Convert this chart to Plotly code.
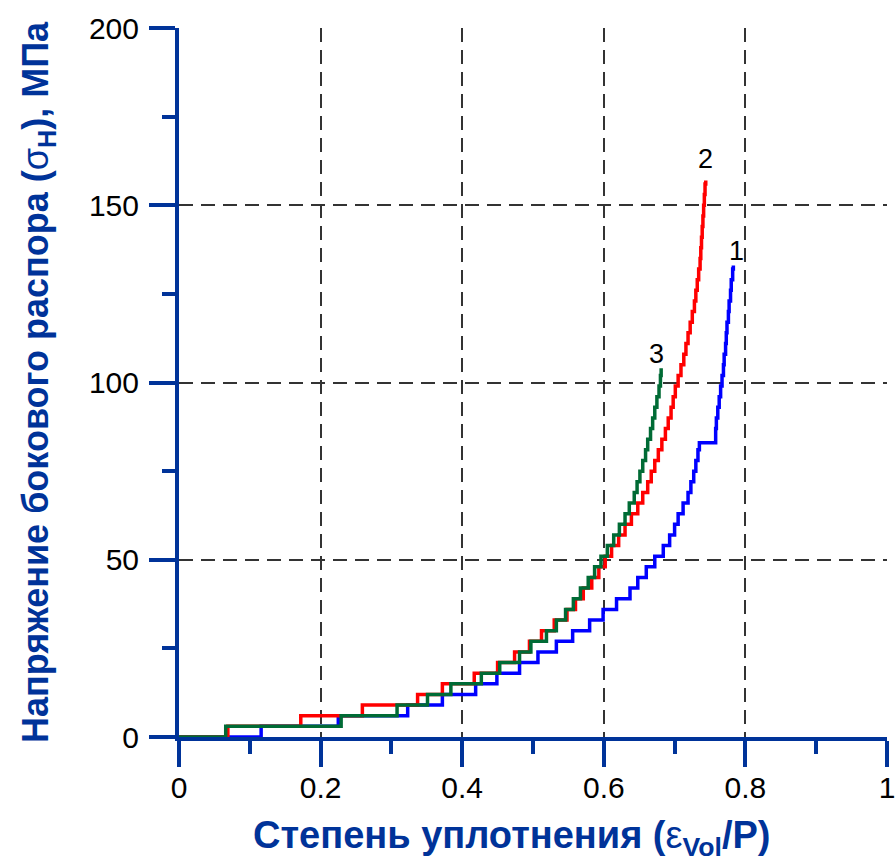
import plotly.graph_objects as go

# ---- data ----
eps_1 = [0, 0.116, 0.225, 0.323, 0.372, 0.419, 0.449, 0.481, 0.507, 0.533, 0.556, 0.580,
         0.599, 0.618, 0.637, 0.648, 0.660, 0.672, 0.684, 0.693, 0.700, 0.705, 0.712, 0.719,
         0.723, 0.727, 0.730, 0.733, 0.735, 0.758, 0.759, 0.761, 0.763, 0.765, 0.767, 0.769,
         0.770, 0.772, 0.773, 0.774, 0.776, 0.777, 0.779, 0.780, 0.782, 0.783]
sigma_1 = [0, 3, 6, 9, 12, 15, 18, 21, 24, 27, 30, 33, 36, 39, 42, 45, 48, 51, 54, 57, 60,
           63, 66, 69, 72, 75, 78, 81, 83, 87, 90, 93, 96, 99, 102, 105, 108, 111, 114, 117,
           120, 123, 126, 129, 132, 133]

eps_2 = [0, 0.069, 0.172, 0.259, 0.337, 0.372, 0.417, 0.450, 0.474, 0.495, 0.512, 0.530,
         0.548, 0.560, 0.571, 0.583, 0.593, 0.602, 0.611, 0.621, 0.630, 0.639, 0.648, 0.655,
         0.662, 0.667, 0.672, 0.677, 0.682, 0.687, 0.691, 0.695, 0.698, 0.701, 0.705, 0.709,
         0.713, 0.716, 0.719, 0.722, 0.725, 0.728, 0.730, 0.732, 0.734, 0.736, 0.737, 0.738,
         0.739, 0.740, 0.741, 0.742, 0.743, 0.744]
sigma_2 = [0, 3, 6, 9, 12, 15, 18, 21, 24, 27, 30, 33, 36, 39, 42, 45, 48, 51, 54, 57, 60,
           63, 66, 69, 72, 75, 78, 81, 84, 87, 90, 93, 96, 99, 102, 105, 108, 111, 114, 117,
           120, 123, 126, 129, 132, 135, 138, 141, 144, 147, 150, 153, 156, 157]

eps_3 = [0, 0.066, 0.229, 0.308, 0.351, 0.384, 0.427, 0.453, 0.481, 0.497, 0.519, 0.533,
         0.546, 0.557, 0.567, 0.578, 0.587, 0.596, 0.605, 0.614, 0.622, 0.630, 0.636, 0.643,
         0.647, 0.651, 0.655, 0.659, 0.662, 0.666, 0.669, 0.672, 0.675, 0.678, 0.680, 0.681]
sigma_3 = [0, 3, 6, 9, 12, 15, 18, 21, 24, 27, 30, 33, 36, 39, 42, 45, 48, 51, 54, 57, 60,
           63, 66, 69, 72, 75, 78, 81, 84, 87, 90, 93, 96, 99, 102, 104]

curve_labels = ["1", "2", "3"]
label_x = [0.787, 0.743, 0.675]
label_y = [137, 163, 108]

x_ticks = [0, 0.2, 0.4, 0.6, 0.8, 1.0]
x_ticktext = ["0", "0.2", "0.4", "0.6", "0.8", "1"]
x_minor = [0.1, 0.3, 0.5, 0.7, 0.9]
y_ticks = [0, 50, 100, 150, 200]
y_minor = [25, 75, 125, 175]

x_title = "<b>Степень уплотнения (</b>ε<b><sub>Vol</sub>/P)</b>"
y_title = "<b>Напряжение бокового распора (</b>σ<b><sub>Н</sub>), МПа</b>"

AX = "#003399"
FONT = "Liberation Sans, Arial, sans-serif"

fig = go.Figure()
for xs, ys, col, name in [(eps_1, sigma_1, "#0000FF", "1"),
                          (eps_2, sigma_2, "#FF0000", "2"),
                          (eps_3, sigma_3, "#006B35", "3")]:
    fig.add_trace(go.Scatter(x=xs, y=ys, mode="lines", line=dict(color=col, width=3.5, shape="hv"),
                             name=name, showlegend=False))

for t, x, y in zip(curve_labels, label_x, label_y):
    fig.add_annotation(x=x, y=y, text=t, showarrow=False,
                       font=dict(family=FONT, size=27, color="black"))

# x-axis title (placed as annotation so it sits slightly left of centre, as in the reference)
fig.add_annotation(xref="paper", yref="paper", x=0.47, y=-0.143, xanchor="center",
                   yanchor="middle", text=x_title, showarrow=False,
                   font=dict(family=FONT, size=38, color=AX))

common = dict(showline=True, linecolor=AX, linewidth=4, ticks="outside", ticklen=26,
              tickwidth=4, tickcolor=AX, showgrid=True, gridcolor="#333333",
              griddash="14px,8px", gridwidth=1.5, zeroline=False, automargin=False,
              ticklabeloverflow="allow",
              tickfont=dict(family=FONT, size=30, color="black"))

fig.update_xaxes(range=[0, 1], tickvals=x_ticks, ticktext=x_ticktext, ticklabelstandoff=-5,
                 minor=dict(tickvals=x_minor, ticks="outside", ticklen=13, tickwidth=4,
                            tickcolor=AX, showgrid=False),
                 **common)
fig.update_yaxes(range=[0, 200], tickvals=y_ticks, ticklabelstandoff=4,
                 minor=dict(tickvals=y_minor, ticks="outside", ticklen=13, tickwidth=4,
                            tickcolor=AX, showgrid=False),
                 title=dict(text=y_title, font=dict(family=FONT, size=36, color=AX), standoff=30),
                 **common)

fig.update_layout(width=895, height=864, margin=dict(l=179, r=8, t=28, b=127),
                  plot_bgcolor="white", paper_bgcolor="white", showlegend=False)

fig.write_html("out.html")
